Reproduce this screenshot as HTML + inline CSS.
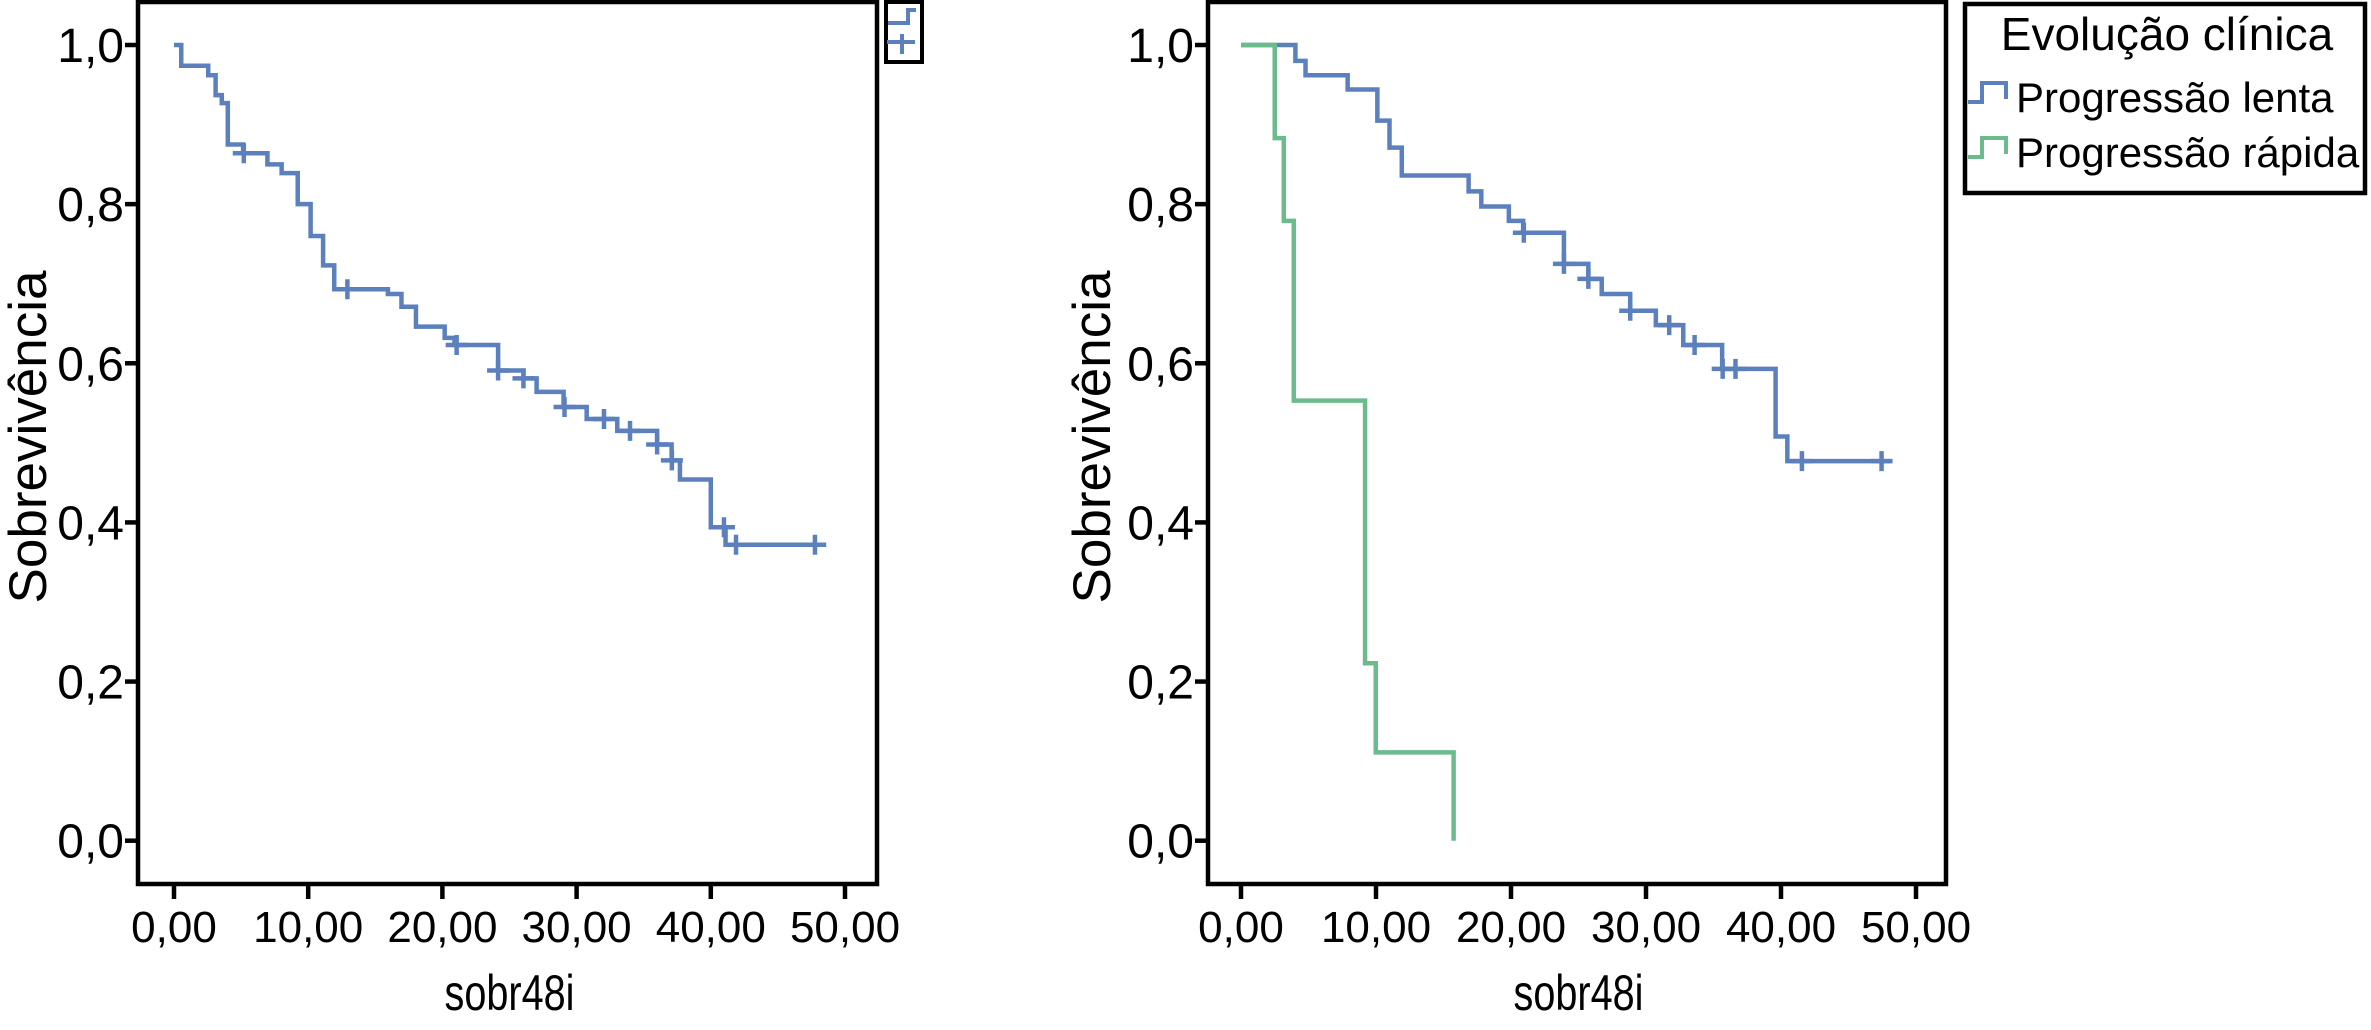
<!DOCTYPE html>
<html><head><meta charset="utf-8"><style>
html,body{margin:0;padding:0;background:#fff;}
svg{display:block;font-family:"Liberation Sans",sans-serif;}
</style></head><body>
<svg id="chart" width="2371" height="1030" viewBox="0 0 2371 1030" xmlns="http://www.w3.org/2000/svg">
<g id="left"></g>
<g id="right"></g>
</svg>
<script>
const xTicks = [0,10,20,30,40,50];
const xTickLabels = ["0,00","10,00","20,00","30,00","40,00","50,00"];
const yTicks = [0,0.2,0.4,0.6,0.8,1.0];
const yTickLabels = ["0,0","0,2","0,4","0,6","0,8","1,0"];

// overall survival (left) : step times and survival after each step
const allTimes = [0,0.54,2.55,3.1,3.56,4.01,5.15,6.96,8.02,9.22,10.18,11.11,11.94,15.94,16.95,18.03,20.17,20.9,24.15,26.04,27.02,29.03,30.75,33.03,36.0,37.08,37.7,40.0,41.1];
const allSurv  = [1.0,0.974,0.962,0.937,0.927,0.875,0.864,0.85,0.839,0.8,0.76,0.723,0.693,0.687,0.671,0.646,0.632,0.623,0.591,0.581,0.564,0.545,0.53,0.515,0.498,0.478,0.454,0.394,0.372];
const allEnd = 48.6;
const allCensT = [5.2,12.92,21.06,24.15,26.04,29.1,32.04,33.98,36.0,37.1,40.98,41.88,47.76];

// slow progression (right, blue)
const slowTimes = [0,4.03,4.78,7.9,10.1,11.0,11.91,16.86,17.8,19.84,20.9,23.92,25.73,26.72,28.83,30.73,32.76,35.64,39.6,40.47];
const slowSurv  = [1.0,0.98,0.962,0.944,0.905,0.871,0.836,0.816,0.797,0.779,0.764,0.725,0.706,0.687,0.666,0.648,0.623,0.593,0.508,0.477];
const slowEnd = 48.1;
const slowCensT = [20.95,23.92,25.73,28.83,31.72,33.6,35.68,36.63,41.55,47.45];

// rapid progression (right, green)
const fastTimes = [0,2.5,3.17,3.91,9.19,9.98,15.75];
const fastSurv  = [1.0,0.883,0.779,0.553,0.223,0.111,0.0];
const fastEnd = 15.75;
const fastCensT = [];

const BLUE="#5b80bd", GREEN="#6bbb8d";
const NS="http://www.w3.org/2000/svg";
function mk(tag, attrs, parent){const e=document.createElementNS(NS,tag);for(const k in attrs)e.setAttribute(k,attrs[k]);parent.appendChild(e);return e;}

function survAt(times,surv,t){let v=surv[0];for(let i=0;i<times.length;i++){if(times[i]<=t+1e-9)v=surv[i];}return v;}

function drawPanel(g, cfg){
  const X = t => cfg.x0 + (t/50)*(cfg.x50-cfg.x0);
  const Y = s => 840.7 - s*(840.7-45);
  const fr = mk('rect',{x:cfg.left,y:2,width:cfg.right-cfg.left,height:882,fill:'none',stroke:'#000','stroke-width':4.5},g);
  
  
  xTicks.forEach((t,i)=>{
    const l=mk('line',{x1:X(t),x2:X(t),y1:884,y2:899,stroke:'#000','stroke-width':4.5},g);
    
    
    const tx=mk('text',{x:X(t),y:942,'font-size':44,'text-anchor':'middle',fill:'#000'},g);
    tx.textContent=xTickLabels[i];
    
    
  });
  yTicks.forEach((v,i)=>{
    const l=mk('line',{x1:cfg.left-13,x2:cfg.left,y1:Y(v),y2:Y(v),stroke:'#000','stroke-width':4.5},g);
    
    
    const tx=mk('text',{x:cfg.left-14,y:Y(v)+17,'font-size':48,'text-anchor':'end',fill:'#000'},g);
    tx.textContent=yTickLabels[i];
    
    
  });
  const yt=mk('text',{x:0,y:0,'font-size':53,'text-anchor':'middle',fill:'#000',transform:`translate(${cfg.ytx},437) rotate(-90)`},g);
  yt.textContent='Sobrevivência';
  
  
  const xt=mk('text',{x:(cfg.x0+cfg.x50)/2,y:1010,'font-size':50,'text-anchor':'middle',fill:'#000',textLength:130,lengthAdjust:'spacingAndGlyphs'},g);
  xt.textContent='sobr48i';
  
  
  cfg.series.forEach(s=>{
    let d=`M${X(s.times[0])},${Y(s.surv[0])}`;
    for(let i=1;i<s.times.length;i++){d+=` H${X(s.times[i])} V${Y(s.surv[i])}`;}
    d+=` H${X(s.end)}`;
    const p=mk('path',{d:d,fill:'none',stroke:s.color,'stroke-width':4.5},g);
    
    
    s.cens.forEach(t=>{
      const v=survAt(s.times,s.surv,t);
      const c=mk('path',{d:`M${X(t)-11},${Y(v)} H${X(t)+11} M${X(t)},${Y(v)-10} V${Y(v)+10}`,stroke:s.color,'stroke-width':4.5,fill:'none'},g);
      
      
    });
  });
}

const gl=document.getElementById('left');
drawPanel(gl,{left:138,right:877,x0:174,x50:845,ytx:46,series:[{times:allTimes,surv:allSurv,end:allEnd,cens:allCensT,color:BLUE,name:'survival-curve-all'}]});
const gr=document.getElementById('right');
drawPanel(gr,{left:1208,right:1946,x0:1241,x50:1916,ytx:1110,series:[
  {times:slowTimes,surv:slowSurv,end:slowEnd,cens:slowCensT,color:BLUE,name:'survival-curve-slow'},
  {times:fastTimes,surv:fastSurv,end:fastEnd,cens:fastCensT,color:GREEN,name:'survival-curve-rapid'}]});

const sl=mk('g',{},gl);


mk('rect',{x:886,y:2,width:36,height:60,fill:'#fff',stroke:'#000','stroke-width':4},sl);
mk('path',{d:'M888,23 H908 V10 H916',fill:'none',stroke:BLUE,'stroke-width':4},sl);
mk('path',{d:'M887,42 H915 M902,34 V54',fill:'none',stroke:BLUE,'stroke-width':4},sl);

const lg=mk('g',{},gr);


mk('rect',{x:1965,y:4,width:400,height:189,fill:'#fff',stroke:'#000','stroke-width':4.5},lg);
const lt=mk('text',{x:2167,y:50,'font-size':46,'text-anchor':'middle',fill:'#000'},lg);
lt.textContent='Evolução clínica';


[[BLUE,'Progressão lenta',97,'legend-entry-slow'],[GREEN,'Progressão rápida',152,'legend-entry-rapid']].forEach(e=>{
  const g=mk('g',{},lg);
  
  
  mk('path',{d:`M1968,${e[2]+5} H1982 V${e[2]-14} H2006 V${e[2]+2}`,fill:'none',stroke:e[0],'stroke-width':4},g);
  const t=mk('text',{x:2016,y:e[2]+15,'font-size':42,fill:'#000'},g);
  t.textContent=e[1];
});
</script>
</body></html>
